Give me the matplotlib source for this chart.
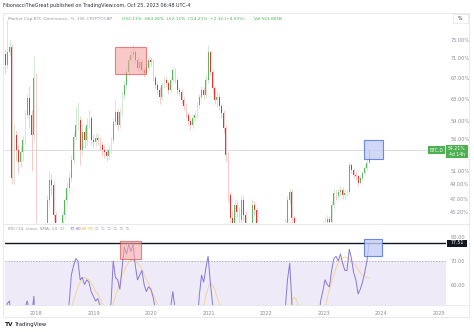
import matplotlib
matplotlib.use('Agg')
import matplotlib.pyplot as plt
import matplotlib.dates as mdates
from matplotlib.patches import Rectangle
from matplotlib.lines import Line2D
from matplotlib.ticker import NullLocator, FixedLocator
import numpy as np
import pandas as pd

# ---------------- data ----------------
start_date = '2017-06-18'      # first candle, two-week steps
first_open = 72.0
close = [69.6, 72.3, 73.4, 49.9, 56.7, 54.2, 52.3, 53.9, 55.8, 60.1,
         63.2, 60.1, 56.7, 67.0, 40.0, 38.5, 37.5, 39.0, 41.5, 46.8,
         49.6, 48.9, 44.8, 42.5, 41.5, 42.0, 44.8, 46.8, 48.5, 49.9,
         52.6, 56.4, 58.3, 59.2, 54.2, 57.2, 55.8, 58.3, 59.6, 55.8,
         55.5, 56.1, 55.8, 55.0, 54.2, 53.9, 53.3, 54.2, 55.8, 58.8,
         60.6, 58.3, 60.6, 63.7, 65.6, 68.2, 70.6, 71.7, 72.3, 70.6,
         69.0, 70.2, 68.6, 68.0, 69.0, 70.6, 70.2, 67.0, 65.6, 64.7,
         63.3, 65.6, 66.6, 66.0, 64.7, 66.6, 68.6, 66.6, 64.7, 64.3,
         62.8, 61.7, 60.1, 59.0, 58.3, 59.6, 60.1, 61.9, 63.3, 64.7,
         63.7, 66.6, 72.3, 68.2, 65.0, 62.8, 63.3, 61.7, 60.4, 57.8,
         53.4, 47.5, 44.4, 42.5, 46.1, 45.2, 44.1, 46.8, 44.8, 43.0,
         42.0, 42.5, 46.1, 45.5, 42.8, 41.6, 41.0, 41.6, 41.8, 41.6,
         41.0, 40.4, 41.0, 40.6, 40.4, 41.0, 41.8, 43.5, 46.8, 47.9,
         44.4, 42.4, 41.6, 41.0, 40.4, 40.2, 40.4, 40.2, 40.6, 40.4,
         40.6, 41.0, 41.6, 42.6, 43.5, 43.9, 44.3, 43.9, 46.1, 47.8,
         47.4, 47.9, 48.2, 47.5, 47.8, 47.9, 51.9, 51.1, 50.4, 50.2,
         49.2, 49.9, 50.6, 51.4, 52.11, 54.21]
high = [73.0, 79.5, 75.0, 74.0, 58.5, 57.5, 55.0, 54.8, 56.5, 61.0,
        64.0, 65.5, 61.0, 71.5, 68.0, 41.5, 39.5, 40.0, 42.5, 47.5,
        51.0, 50.5, 49.5, 45.2, 43.0, 42.8, 45.3, 47.3, 49.3, 50.8,
        53.5, 57.2, 61.5, 62.5, 60.0, 58.5, 58.0, 59.5, 61.0, 60.0,
        56.8, 57.0, 56.9, 56.3, 55.5, 55.0, 54.5, 54.8, 56.3, 59.5,
        62.8, 61.2, 61.3, 64.5, 66.5, 69.0, 71.5, 72.8, 74.0, 73.0,
        71.2, 71.0, 70.8, 69.2, 69.8, 71.5, 71.3, 70.8, 67.5, 66.2,
        65.2, 66.2, 67.3, 67.2, 66.5, 67.2, 69.3, 69.0, 67.0, 65.3,
        64.8, 63.3, 62.2, 60.6, 59.6, 60.2, 60.8, 62.5, 64.0, 65.5,
        65.3, 67.5, 73.8, 72.8, 68.8, 65.5, 64.5, 64.0, 62.3, 61.0,
        58.3, 54.0, 48.0, 45.5, 47.0, 46.8, 45.8, 47.5, 47.3, 45.3,
        43.5, 43.2, 47.0, 46.6, 45.8, 43.2, 42.0, 42.2, 42.5, 42.3,
        42.0, 41.4, 41.5, 41.4, 41.0, 41.5, 42.4, 44.2, 47.3, 48.5,
        48.3, 44.8, 42.9, 42.0, 41.3, 40.9, 40.9, 40.8, 41.1, 41.0,
        41.1, 41.5, 42.1, 43.1, 44.0, 44.5, 44.8, 44.6, 46.6, 48.3,
        48.2, 48.4, 48.8, 48.6, 48.2, 48.4, 52.4, 52.2, 51.4, 50.9,
        50.5, 50.3, 51.0, 51.9, 52.6, 54.26]
low = [68.0, 69.0, 71.5, 49.0, 49.0, 52.5, 50.5, 51.5, 52.5, 55.0,
       59.5, 58.0, 51.0, 55.5, 39.0, 37.0, 36.0, 36.8, 38.5, 41.0,
       46.0, 47.5, 44.0, 41.8, 40.8, 40.8, 41.5, 44.2, 46.0, 47.8,
       49.3, 52.0, 55.8, 57.5, 51.8, 53.5, 54.5, 55.0, 57.8, 55.0,
       54.6, 54.8, 55.0, 54.2, 53.3, 53.0, 52.5, 52.8, 53.8, 55.3,
       58.3, 57.5, 57.8, 60.0, 63.0, 65.0, 67.5, 70.0, 71.0, 70.0,
       68.3, 68.5, 68.0, 67.2, 67.5, 68.5, 69.5, 66.5, 65.0, 64.0,
       62.0, 62.8, 65.0, 65.3, 64.0, 64.2, 66.0, 66.0, 64.0, 63.5,
       62.0, 61.0, 59.5, 58.3, 57.5, 57.8, 59.0, 59.6, 61.3, 62.8,
       63.0, 63.2, 66.0, 67.5, 64.0, 62.0, 61.5, 61.0, 59.5, 57.0,
       52.5, 46.5, 43.5, 41.5, 42.0, 44.5, 43.5, 43.8, 44.0, 42.3,
       41.3, 41.5, 42.0, 44.8, 42.2, 41.0, 40.4, 40.6, 41.0, 41.0,
       40.4, 39.8, 40.0, 40.0, 39.8, 40.0, 40.6, 41.5, 43.2, 46.3,
       43.8, 41.8, 41.0, 40.4, 39.8, 39.6, 39.7, 39.6, 39.8, 39.9,
       40.0, 40.2, 40.6, 41.2, 42.2, 43.0, 43.4, 43.2, 43.5, 45.6,
       46.8, 46.9, 47.4, 47.0, 47.0, 47.3, 47.6, 50.6, 49.9, 49.6,
       48.8, 49.0, 49.6, 50.3, 51.1, 52.11]
rsi = [48, 52, 53, 38, 44, 42, 40, 42, 45, 50,
       53, 49, 46, 55, 35, 32, 30, 33, 36, 40,
       43, 42, 38, 35, 34, 35, 40, 44, 48, 52,
       64, 68, 71, 70, 62, 63, 60, 62, 61, 57,
       55, 53, 54, 51, 48, 47, 45, 48, 52, 70,
       63, 62, 58, 67, 76, 73, 77, 74, 77, 68,
       62, 64, 66, 60, 57, 59, 58, 55, 50, 47,
       44, 48, 50, 49, 46, 50, 57, 50, 45, 44,
       41, 38, 36, 34, 33, 37, 38, 43, 55, 64,
       61, 67, 72, 61, 52, 48, 48, 45, 42, 36,
       28, 22, 20, 22, 30, 30, 28, 35, 32, 30,
       28, 30, 38, 38, 33, 30, 30, 34, 35, 34,
       32, 30, 33, 32, 31, 34, 38, 50, 62, 69,
       52, 42, 38, 36, 34, 33, 34, 33, 35, 34,
       36, 38, 42, 53, 57, 62, 60, 59, 66, 71,
       72, 70, 73, 69, 66, 66, 75, 71, 65, 62,
       56, 58, 61, 65, 70, 77.4]
rsi_sma = [50, 50, 51, 50, 49, 48, 47, 46, 46, 46,
           47, 47, 47, 48, 46, 44, 42, 40, 38, 37,
           36, 36, 37, 37, 38, 39, 40, 41, 43, 46,
           50, 53, 56, 59, 61, 63, 63, 62.5, 62, 61,
           59, 57, 56, 54, 52, 51, 50, 49, 50, 52,
           55, 58, 61, 64, 66, 68, 69.5, 70.3, 70.4, 70,
           69, 68, 66.5, 64.5, 62.5, 60.5, 58.5, 56, 54, 52,
           50, 49, 48.5, 48, 48, 48, 48.5, 48, 47, 46,
           45, 43, 41, 39, 38, 37, 37, 38, 41, 46,
           51, 55, 58.5, 60.5, 60, 58, 55, 52, 49, 46,
           42, 38, 34, 31, 29, 28, 28, 29, 30, 31,
           32, 32, 33, 33, 33, 33, 33, 33, 33, 33,
           33, 32, 32, 32, 32, 33, 35, 38, 42, 50,
           53, 54.7, 53.5, 51, 47, 43, 40, 37, 35, 34,
           34, 35, 37, 40, 45, 50, 54, 58, 61, 64,
           67, 69, 70.5, 71.3, 71.7, 71.5, 71, 70, 69, 68,
           66.5, 65, 64, 63.5, 63, 62.7]
price_ticks = [75, 71, 67, 63, 59, 56, 51, 49, 47, 45.2]
rsi_ticks = [80, 70, 60]
year_ticks = [2018, 2019, 2020, 2021, 2022, 2023, 2024, 2025]
last_price = 54.21
rsi_level = 77.51

# ---------------- layout helpers ----------------
W, H = 474, 332
def fx(px): return px / W
def fy(py): return 1 - py / H

GREY = '#8a8e99'
UP, DOWN = '#5cb85f', '#e8322f'
UPW, DOWNW = '#bfe0c0', '#f5b5b5'

fig = plt.figure(figsize=(W / 100, H / 100), dpi=100)
fig.patch.set_facecolor('white')

ax = fig.add_axes([fx(5), fy(223), fx(441), (223 - 14) / H])
ax2 = fig.add_axes([fx(5), fy(305), fx(441), (305 - 225) / H])

dates = pd.date_range(start_date, periods=len(close), freq='14D')
x = mdates.date2num(dates)
c = np.array(close, dtype=float)
o = np.array([first_open] + close[:-1], dtype=float)
up = c >= o
blo = np.minimum(o, c)
bhi = np.maximum(o, c)

ax.set_yscale('log')
ax.vlines(x, low, high, colors=np.where(up, UPW, DOWNW), lw=0.5, zorder=2)
ax.bar(x, np.maximum(bhi - blo, 0.15), bottom=blo, width=5.5,
       color=np.where(up, UP, DOWN), linewidth=0, zorder=3)
ax.axhline(last_price, color='#d6d8de', lw=0.6, zorder=1)

xl = (mdates.date2num(pd.Timestamp('2017-06-17')), mdates.date2num(pd.Timestamp('2025-02-14')))
ax.set_xlim(*xl)
ax.set_ylim(43.74, 80.87)
ax.yaxis.set_minor_locator(NullLocator())
ax.yaxis.set_major_locator(FixedLocator(price_ticks))
ax.set_yticklabels([f'{v:.2f}%' for v in price_ticks])
ax.yaxis.tick_right()
ax.tick_params(axis='y', length=0, pad=3, labelsize=3.6, labelcolor=GREY)
ax.set_xticks([])
for s in ax.spines.values():
    s.set_visible(False)

def dn(s):
    return mdates.date2num(pd.Timestamp(s))

# highlight boxes in the price pane
ax.add_patch(Rectangle((dn('2019-05-17'), 67.8), dn('2019-11-29') - dn('2019-05-17'), 73.4 - 67.8,
                       facecolor='#f6a5a5', alpha=0.6, edgecolor='#e53935', lw=0.8, zorder=4))
ax.add_patch(Rectangle((dn('2023-09-14'), 52.8), dn('2024-01-13') - dn('2023-09-14'), 55.8 - 52.8,
                       facecolor='#c5cff7', alpha=0.8, edgecolor='#4a6fe3', lw=0.8, zorder=4))

# ---------------- RSI pane ----------------
ax2.axhspan(30, 70, color='#eeeaf8', lw=0, zorder=0)
ax2.axhline(70, color='#9b97b5', lw=0.5, ls=(0, (2, 2)), zorder=1)
ax2.plot(x, rsi_sma, color='#f3d59a', lw=0.7, zorder=2)
ax2.plot(x, rsi, color='#8a78d2', lw=0.7, zorder=3)
ax2.axhline(rsi_level, color='#131722', lw=1.0, zorder=4)
ax2.add_patch(Rectangle((dn('2019-06-18'), 70.85), dn('2019-10-28') - dn('2019-06-18'), 78.5 - 70.85,
                        facecolor='#f6a5a5', alpha=0.6, edgecolor='#e53935', lw=0.8, zorder=5))
ax2.add_patch(Rectangle((dn('2023-09-14'), 72.1), dn('2024-01-06') - dn('2023-09-14'), 79.4 - 72.1,
                        facecolor='#c5cff7', alpha=0.8, edgecolor='#4a6fe3', lw=0.8, zorder=5))
ax2.set_xlim(*xl)
ax2.set_ylim(51.3, 85.3)
ax2.yaxis.set_major_locator(FixedLocator(rsi_ticks))
ax2.set_yticklabels([f'{v:.2f}' for v in rsi_ticks])
ax2.yaxis.tick_right()
ax2.tick_params(axis='y', length=0, pad=3, labelsize=3.6, labelcolor=GREY)
ax2.set_xticks([dn(f'{y}-01-01') for y in year_ticks])
ax2.set_xticklabels([str(y) for y in year_ticks])
ax2.tick_params(axis='x', length=0, pad=4, labelsize=3.6, labelcolor=GREY)
for s in ax2.spines.values():
    s.set_visible(False)

# ---------------- frame lines ----------------
fig.add_artist(Rectangle((fx(3), fy(317)), fx(466), (317 - 13) / H, transform=fig.transFigure,
                         fill=False, edgecolor='#e3e5ea', lw=0.6))
for yy in (223.5, 305):
    fig.add_artist(Line2D([fx(3), fx(469)], [fy(yy), fy(yy)], color='#e3e5ea', lw=0.6))

# ---------------- texts ----------------
fig.text(fx(3), fy(5), 'FibonacciTheGreat published on TradingView.com, Oct 25, 2023 06:48 UTC-4',
         fontsize=3.5, color='#2a2e39', va='center', ha='left')
fig.text(fx(8), fy(19), 'Market Cap BTC Dominance, %, 1W, CRYPTOCAP', fontsize=3.1, color='#9598a1',
         va='center', ha='left')
fig.text(fx(122), fy(19), 'O52.11%  H54.26%  L52.11%  C54.21%  +2.10 (+4.03%)', fontsize=3.1,
         color='#4caf50', va='center', ha='left')
fig.text(fx(254), fy(19), 'Vol 501.805B', fontsize=3.1, color='#4caf50', va='center', ha='left')
fig.text(fx(8), fy(229), 'RSI (14, close, SMA, 14, 2)', fontsize=3.1, color='#9598a1',
         va='center', ha='left')
fig.text(fx(70), fy(229), '77.40', fontsize=3.0, color='#7e57c2', va='center', ha='left')
fig.text(fx(82), fy(229), '60.75', fontsize=3.0, color='#e0b030', va='center', ha='left')
fig.text(fx(95), fy(229), '\u2205  \u2205  \u2205  \u2205  \u2205  \u2205', fontsize=3.0, color='#9598a1',
         va='center', ha='left')

# percent box top right
fig.add_artist(Rectangle((fx(453), fy(23)), fx(15), 9 / H, transform=fig.transFigure,
                         facecolor='white', edgecolor='#e0e3eb', lw=0.5))
fig.text(fx(460.5), fy(18.5), '%', fontsize=3.4, color='#131722', ha='center', va='center')

# last price labels
fig.text(fx(436.5), fy(150), 'BTC.D', fontsize=3.3, color='white', ha='center', va='center',
         bbox=dict(boxstyle='square,pad=0.25', facecolor='#4caf50', edgecolor='none'))
fig.add_artist(Rectangle((fx(446), fy(158.5)), fx(22), 13 / H, transform=fig.transFigure,
                         facecolor='#4caf50', edgecolor='none'))
fig.text(fx(457), fy(148.5), '54.21%', fontsize=3.3, color='white', ha='center', va='center')
fig.text(fx(457), fy(154.5), '4d 14h', fontsize=3.3, color='white', ha='center', va='center')

# RSI level label
fig.add_artist(Rectangle((fx(447), fy(246.5)), fx(20), 7 / H, transform=fig.transFigure,
                         facecolor='#131722', edgecolor='none'))
fig.text(fx(457), fy(243), '77.51', fontsize=3.3, color='white', ha='center', va='center')

# TradingView logo
fig.text(fx(5), fy(324.5), 'TV', fontsize=4.2, color='#131722', fontweight='bold', ha='left', va='center')
fig.text(fx(15), fy(324.5), 'TradingView', fontsize=3.8, color='#131722', ha='left', va='center')

fig.savefig('out.png', dpi=100, facecolor='white')
